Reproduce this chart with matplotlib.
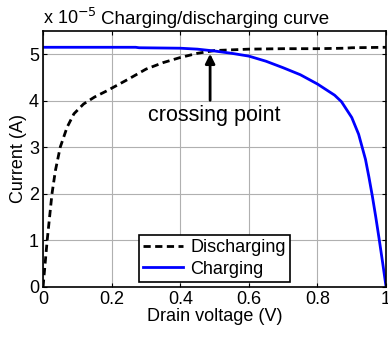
import matplotlib
matplotlib.use("Agg")
import matplotlib.pyplot as plt

plt.rcParams['font.family'] = ['Liberation Sans', 'DejaVu Sans']

# valores em unidades de 1e-5 A
v_descarga = [0, 0.012, 0.026, 0.036, 0.05, 0.07, 0.09, 0.118, 0.15, 0.185, 0.25,
              0.30, 0.35, 0.40, 0.45, 0.50, 0.60, 0.70, 0.80, 0.88, 0.90, 1.0]
i_descarga = [0, 1.0, 2.0, 2.5, 3.0, 3.43, 3.72, 3.93, 4.08, 4.21, 4.47,
              4.68, 4.82, 4.93, 5.02, 5.08, 5.11, 5.12, 5.12, 5.13, 5.14, 5.15]

v_carga = [0, 0.27, 0.28, 0.40, 0.45, 0.50, 0.55, 0.60, 0.65, 0.70, 0.75, 0.80,
           0.85, 0.87, 0.90, 0.92, 0.94, 0.95, 0.96, 0.97, 0.98, 0.99, 1.0]
i_carga = [5.15, 5.15, 5.14, 5.13, 5.11, 5.07, 5.02, 4.96, 4.85, 4.71, 4.56, 4.36,
           4.12, 3.98, 3.64, 3.28, 2.74, 2.36, 1.95, 1.5, 1.02, 0.52, 0]

fig = plt.figure(figsize=(3.88, 3.37), dpi=100)
ax = fig.add_axes([0.111, 0.149, 0.884, 0.759])

ax.plot(v_descarga, i_descarga, 'k--', lw=2, dashes=(2.6, 1.6), label='Discharging')
ax.plot(v_carga, i_carga, color='#0000ff', lw=2, label='Charging')

ax.set_xlim(0, 1)
ax.set_ylim(0, 5.5)
ax.set_xticks([0, 0.2, 0.4, 0.6, 0.8, 1])
ax.set_xticklabels(['0', '0.2', '0.4', '0.6', '0.8', '1'])
ax.set_yticks([0, 1, 2, 3, 4, 5])
ax.tick_params(direction='in', top=True, right=True, labelsize=13, length=3, pad=3)
ax.grid(True, color='#b0b0b0', lw=0.8)
ax.set_axisbelow(True)
for s in ax.spines.values():
    s.set_linewidth(1.2)

ax.set_xlabel('Drain voltage (V)', fontsize=13, labelpad=0)
ax.set_ylabel('Current (A)', fontsize=13, labelpad=1)
ax.set_title('Charging/discharging curve', fontsize=13.5, pad=5)
ax.text(0.0, 1.01, r'x 10$^{-5}$', transform=ax.transAxes, fontsize=13,
        ha='left', va='bottom')

ax.annotate('', xy=(0.487, 5.07), xytext=(0.487, 3.95),
            arrowprops=dict(arrowstyle='-|>', color='k', lw=2, mutation_scale=14))
ax.text(0.50, 3.68, 'crossing point', fontsize=15.5, ha='center', va='center')

leg = ax.legend(loc='lower center', bbox_to_anchor=(0.5, 0.0), fontsize=13,
                frameon=True, fancybox=False, edgecolor='k', framealpha=1,
                handlelength=2.2, borderpad=0.25, labelspacing=0.25,
                handletextpad=0.4, borderaxespad=0.25)
leg.get_frame().set_linewidth(1.2)

fig.savefig('out.png', dpi=100)
